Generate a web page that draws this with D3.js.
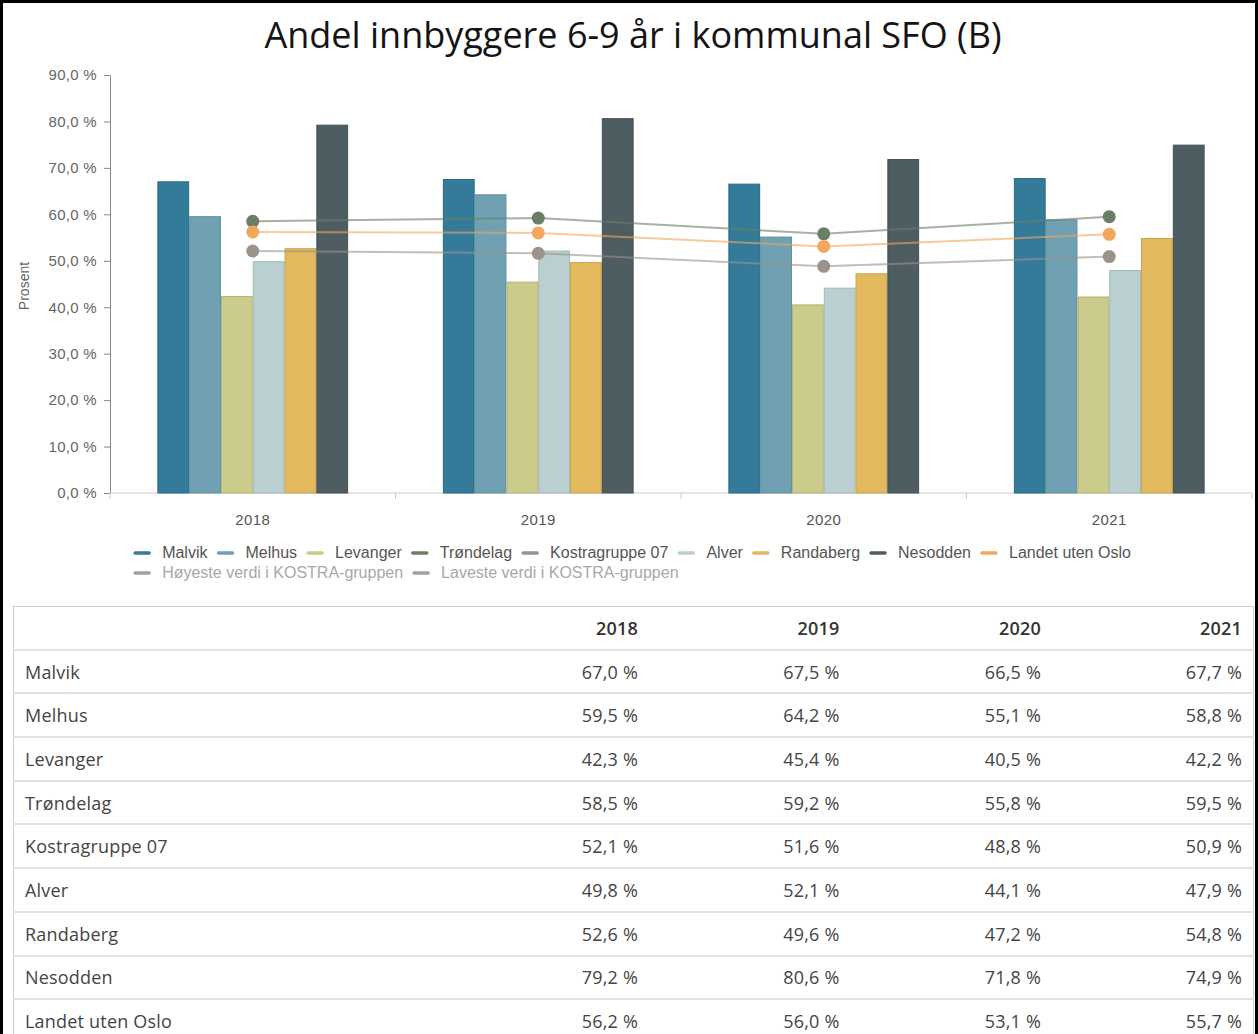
<!DOCTYPE html>
<html>
<head>
<meta charset="utf-8">
<script src="https://cdn.jsdelivr.net/npm/d3@7"></script>
<style>
  html, body { margin: 0; padding: 0; background: #fff; }
  #frame { position: absolute; left: 0; top: 0; width: 1252px; height: 1100px; border: 3px solid #000; border-bottom: none; background: #fff; overflow: hidden; }
  #chart { position: absolute; left: -3px; top: -3px; }
  #tbl { position: absolute; left: 10px; top: 603px; width: 1240px; table-layout: fixed; border-collapse: collapse; font-family: "Open Sans", sans-serif; font-size: 18px; letter-spacing: 0.2px; color: #444; }
  #tbl td, #tbl th { height: 41.7px; padding: 0 11px; border-bottom: 2px solid #e2e2e2; white-space: nowrap; }
  #tbl th { font-weight: 600; color: #333; text-align: right; border-top: 1px solid #ccc; }
  #tbl td { text-align: right; }
  #tbl td.name, #tbl th.name { text-align: left; }
  #tbl tr td:first-child, #tbl tr th:first-child { border-left: 1px solid #ccc; }
  #tbl tr td:last-child, #tbl tr th:last-child { border-right: 1px solid #ccc; }
</style>
</head>
<body>
<div id="frame">
  <svg id="chart" width="1258" height="606"></svg>
  <table id="tbl"></table>
</div>
<script>
// ---- Data ----
const years = ["2018", "2019", "2020", "2021"];
const malvik = [67.0, 67.5, 66.5, 67.7];
const melhus = [59.5, 64.2, 55.1, 58.8];
const levanger = [42.3, 45.4, 40.5, 42.2];
const trondelag = [58.5, 59.2, 55.8, 59.5];
const kostragruppe07 = [52.1, 51.6, 48.8, 50.9];
const alver = [49.8, 52.1, 44.1, 47.9];
const randaberg = [52.6, 49.6, 47.2, 54.8];
const nesodden = [79.2, 80.6, 71.8, 74.9];
const landetUtenOslo = [56.2, 56.0, 53.1, 55.7];
const yTicks = [0, 10, 20, 30, 40, 50, 60, 70, 80, 90];

const title = "Andel innbyggere 6-9 år i kommunal SFO (B)";
const yTitle = "Prosent";

const barSeries = [
  { name: "Malvik", values: malvik, color: "#347a99", stroke: "#2b6984" },
  { name: "Melhus", values: melhus, color: "#6fa1b3", stroke: "#5f8fa0" },
  { name: "Levanger", values: levanger, color: "#cbcb8b", stroke: "#b4b476" },
  { name: "Alver", values: alver, color: "#bacfd0", stroke: "#a3b9ba" },
  { name: "Randaberg", values: randaberg, color: "#e2b95c", stroke: "#c9a34b" },
  { name: "Nesodden", values: nesodden, color: "#4e5d62", stroke: "#435055" }
];
const lineSeries = [
  { name: "Trøndelag", values: trondelag, color: "#6b7d66" },
  { name: "Kostragruppe 07", values: kostragruppe07, color: "#9b9389" },
  { name: "Landet uten Oslo", values: landetUtenOslo, color: "#f2a65e" }
];
const legendRow1 = [
  { name: "Malvik", color: "#347a99" },
  { name: "Melhus", color: "#6fa1b3" },
  { name: "Levanger", color: "#cbcb8b" },
  { name: "Trøndelag", color: "#6b7d66" },
  { name: "Kostragruppe 07", color: "#9b9389" },
  { name: "Alver", color: "#bacfd0" },
  { name: "Randaberg", color: "#e2b95c" },
  { name: "Nesodden", color: "#4e5d62" },
  { name: "Landet uten Oslo", color: "#f2a65e" }
];
const legendRow2 = [
  { name: "Høyeste verdi i KOSTRA-gruppen", color: "#a0a0a0", hidden: true },
  { name: "Laveste verdi i KOSTRA-gruppen", color: "#a0a0a0", hidden: true }
];
const tableRows = [
  { name: "Malvik", values: malvik },
  { name: "Melhus", values: melhus },
  { name: "Levanger", values: levanger },
  { name: "Trøndelag", values: trondelag },
  { name: "Kostragruppe 07", values: kostragruppe07 },
  { name: "Alver", values: alver },
  { name: "Randaberg", values: randaberg },
  { name: "Nesodden", values: nesodden },
  { name: "Landet uten Oslo", values: landetUtenOslo }
];

// ---- Chart ----
const svg = d3.select("#chart");
const fmt = v => d3.format(".1f")(v).replace(".", ",") + " %";
const chartFont = "'Liberation Sans', Arial, sans-serif";

const plot = { left: 110, right: 1252, top: 75, bottom: 493 };
const y = d3.scaleLinear().domain([0, 90]).range([plot.bottom, plot.top]);
const x0 = d3.scaleBand().domain(years).range([plot.left, plot.right]).padding(0);
const x1 = d3.scaleBand().domain(barSeries.map(s => s.name)).range([0, x0.bandwidth()]).paddingInner(0).paddingOuter(1.49);

svg.append("text")
  .attr("x", 633).attr("y", 48)
  .attr("text-anchor", "middle")
  .style("font-family", "'Open Sans', sans-serif")
  .style("font-size", "36px")
  .style("fill", "#141414")
  .text(title);

// Y axis
const yAxis = svg.append("g")
  .attr("transform", `translate(${plot.left},0)`)
  .call(d3.axisLeft(y).tickValues(yTicks).tickFormat(fmt).tickSize(6).tickPadding(7));
yAxis.select(".domain").attr("stroke", "#888");
yAxis.selectAll(".tick line").attr("stroke", "#888");
yAxis.selectAll(".tick text")
  .style("font-family", chartFont).style("font-size", "15px").style("fill", "#666")
  .style("letter-spacing", "0.3px");

svg.append("text")
  .attr("transform", `translate(29,${(plot.top + plot.bottom) / 2 + 2}) rotate(-90)`)
  .attr("text-anchor", "middle")
  .style("font-family", chartFont).style("font-size", "14px").style("fill", "#666")
  .text(yTitle);

// X axis
const xAxisG = svg.append("g").attr("transform", `translate(0,${plot.bottom})`);
xAxisG.append("line")
  .attr("x1", plot.left).attr("x2", plot.right)
  .attr("stroke", "#ccc");
const boundaries = years.map(yv => x0(yv)).concat([x0(years[years.length - 1]) + x0.bandwidth()]);
xAxisG.selectAll("line.tk").data(boundaries).join("line")
  .attr("class", "tk")
  .attr("x1", d => d).attr("x2", d => d).attr("y1", 0).attr("y2", 6)
  .attr("stroke", "#ccc");
xAxisG.selectAll("text").data(years).join("text")
  .attr("x", d => x0(d) + x0.bandwidth() / 2)
  .attr("y", 32)
  .attr("text-anchor", "middle")
  .style("font-family", chartFont).style("font-size", "15px").style("fill", "#555")
  .style("letter-spacing", "0.4px")
  .text(d => d);

// Bars
const barG = svg.append("g");
barSeries.forEach(s => {
  barG.append("g").selectAll("rect").data(s.values.map((v, i) => ({ v, year: years[i] }))).join("rect")
    .attr("x", d => x0(d.year) + x1(s.name) + 0.5)
    .attr("y", d => y(d.v))
    .attr("width", x1.bandwidth() - 1)
    .attr("height", d => y(0) - y(d.v))
    .attr("fill", s.color)
    .attr("stroke", s.stroke)
    .attr("stroke-width", 1);
});

// Lines
const line = d3.line()
  .x((d, i) => x0(years[i]) + x0.bandwidth() / 2)
  .y(d => y(d));
lineSeries.forEach(s => {
  svg.append("path")
    .attr("d", line(s.values))
    .attr("fill", "none")
    .attr("stroke", s.color)
    .attr("stroke-width", 2)
    .attr("stroke-opacity", 0.6);
  svg.append("g").selectAll("circle").data(s.values).join("circle")
    .attr("cx", (d, i) => x0(years[i]) + x0.bandwidth() / 2)
    .attr("cy", d => y(d))
    .attr("r", 6.5)
    .attr("fill", s.color);
});

// Legend
const legendFont = "16px";
const legG = svg.append("g");
function buildRow(items, yPos) {
  const g = legG.append("g");
  let xPos = 0;
  items.forEach(it => {
    const ig = g.append("g").attr("transform", `translate(${xPos},${yPos})`);
    ig.append("line").attr("x1", 1).attr("x2", 15).attr("y1", -5).attr("y2", -5)
      .attr("stroke", it.color).attr("stroke-width", 3.5).attr("stroke-linecap", "round");
    const t = ig.append("text").attr("x", 28).attr("y", 0)
      .style("font-family", chartFont).style("font-size", legendFont)
      .style("fill", it.hidden ? "#a8a8a8" : "#555")
      .text(it.name);
    xPos += 28 + t.node().getComputedTextLength() + 10;
  });
  return { g, width: xPos - 10 };
}
const r1 = buildRow(legendRow1, 558);
const r2 = buildRow(legendRow2, 578);
const legX = 632.5 - r1.width / 2;
r1.g.attr("transform", `translate(${legX},0)`);
r2.g.attr("transform", `translate(${legX},0)`);

// ---- Table ----
const tbl = d3.select("#tbl");
const cg = tbl.append("colgroup");
cg.append("col").style("width", "434px");
years.forEach(() => cg.append("col").style("width", "201.5px"));
const head = tbl.append("tr");
head.append("th").attr("class", "name").text("");
head.selectAll("th.yr").data(years).join("th").attr("class", "yr").text(d => d);
tbl.selectAll("tr.row").data(tableRows).join("tr").attr("class", "row")
  .each(function (r) {
    const tr = d3.select(this);
    tr.append("td").attr("class", "name").text(r.name);
    tr.selectAll("td.v").data(r.values).join("td").attr("class", "v").text(v => fmt(v));
  });
</script>
</body>
</html>
